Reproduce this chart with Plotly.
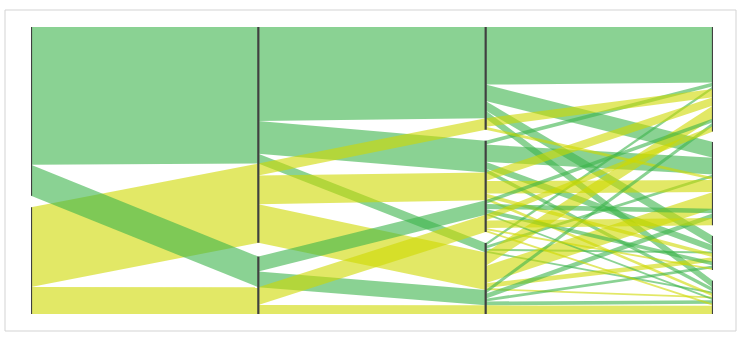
import plotly.graph_objects as go

# ---------------- data ----------------
# four categorical dimensions (no labels shown in the reference)
dim1_cats = ["A", "B"]
dim2_cats = ["P", "Q"]
dim3_cats = ["X", "Y", "Z"]
dim4_cats = ["1", "2", "3", "4"]

# counts for each (dim1, dim2) group: rows = dim3 category, cols = dim4 category
grp_A_P = [[60, 17, 10, 8], [4, 18, 7, 4], [3, 3, 2, 2]]
grp_B_P = [[9, 3, 0, 0], [9, 13, 4, 3], [14, 18, 5, 2]]
grp_A_Q = [[0, 0, 0, 0], [4, 5, 4, 2], [4, 5, 3, 4]]
grp_B_Q = [[0, 0, 0, 0], [6, 8, 2, 2], [0, 0, 0, 9]]

# ---------------- style ----------------
GREEN = "rgba(60,180,75,0.6)"
YELLOW = "rgba(207,217,0,0.6)"
colour_of = {"A": GREEN, "B": YELLOW}
BAR_COLOR = "#404040"
AXIS_PX = 287
GAPS_PX = [11.6, 13.8, 11.0, 10.6]   # gap between categories on each dimension

# ---------------- build paths ----------------
# path order: dim2, then dim1, then dim3, then dim4
groups = [("A", "P", grp_A_P), ("B", "P", grp_B_P), ("A", "Q", grp_A_Q), ("B", "Q", grp_B_Q)]
paths = []
for a, b, mat in groups:
    for i, c in enumerate(dim3_cats):
        for j, d in enumerate(dim4_cats):
            if mat[i][j] > 0:
                paths.append(((a, b, c, d), mat[i][j]))

dims = [dim1_cats, dim2_cats, dim3_cats, dim4_cats]
total = sum(n for _, n in paths)

# category extents on each dimension (each dimension fills the full height)
cat_top, cat_extent, scale = [], [], []
for k, cats in enumerate(dims):
    gap = GAPS_PX[k] / AXIS_PX
    s = (1 - gap * (len(cats) - 1)) / total
    scale.append(s)
    tops, ext, y = {}, {}, 0.0
    for cat in cats:
        cnt = sum(n for p, n in paths if p[k] == cat)
        tops[cat] = y
        ext[cat] = (y, y + cnt * s)
        y += cnt * s + gap
    cat_top.append(tops)
    cat_extent.append(ext)

cursor = [dict(t) for t in cat_top]
spans = []
for p, n in paths:
    sp = []
    for k in range(4):
        y0 = cursor[k][p[k]]
        y1 = y0 + n * scale[k]
        cursor[k][p[k]] = y1
        sp.append((y0, y1))
    spans.append(sp)

fig = go.Figure()

# ribbons between adjacent dimensions (merge contiguous paths with identical link)
for k in range(3):
    merged = []
    for (p, n), sp in zip(paths, spans):
        key = (p[0], p[k], p[k + 1])
        a0, a1 = sp[k]
        b0, b1 = sp[k + 1]
        placed = False
        for m in merged:
            if m["key"] == key and abs(m["a1"] - a0) < 1e-9 and abs(m["b1"] - b0) < 1e-9:
                m["a1"], m["b1"] = a1, b1
                placed = True
                break
        if not placed:
            merged.append(dict(key=key, a0=a0, a1=a1, b0=b0, b1=b1))
    for m in merged:
        fig.add_trace(go.Scatter(
            x=[k, k + 1, k + 1, k, k],
            y=[m["a0"], m["b0"], m["b1"], m["a1"], m["a0"]],
            mode="lines", fill="toself", fillcolor=colour_of[m["key"][0]],
            line=dict(width=0), hoverinfo="skip", showlegend=False))

# category bars
bx, by = [], []
for k, cats in enumerate(dims):
    for cat in cats:
        y0, y1 = cat_extent[k][cat]
        bx += [k, k, None]
        by += [y0, y1, None]
fig.add_trace(go.Scatter(x=bx, y=by, mode="lines",
                         line=dict(color=BAR_COLOR, width=2.2),
                         hoverinfo="skip", showlegend=False))

# ---------------- layout ----------------
W, H = 750, 340
L, R, T, B = 31, 37, 27, 26
pw, ph = W - L - R, H - T - B
frame = (5, 10, 736, 331)  # outer frame in pixels
fig.update_layout(
    width=W, height=H,
    margin=dict(l=L, r=R, t=T, b=B),
    paper_bgcolor="white", plot_bgcolor="white",
    xaxis=dict(visible=False, range=[0, 3], fixedrange=True),
    yaxis=dict(visible=False, range=[1, 0], fixedrange=True),
    shapes=[dict(type="rect", xref="paper", yref="paper", layer="below",
                 x0=(frame[0] - L) / pw, x1=(frame[2] - L) / pw,
                 y0=(H - B - frame[3]) / ph, y1=(H - B - frame[1]) / ph,
                 line=dict(color="#d3d3d3", width=1), fillcolor="rgba(0,0,0,0)")],
)
fig.write_html("out.html", config={"displayModeBar": False})
